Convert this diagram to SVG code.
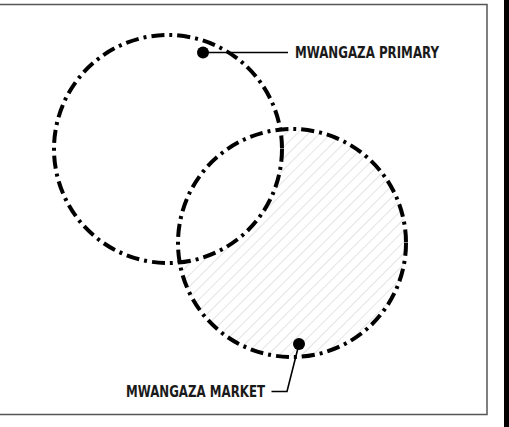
<svg xmlns="http://www.w3.org/2000/svg" width="509" height="427" viewBox="0 0 509 427">
<style>
.ring{fill:none;stroke:#000;stroke-width:4;stroke-dasharray:13 5 3 5}
.lead{fill:none;stroke:#000;stroke-width:1.6}
.dot{fill:#000}
.lbl{font-family:"DejaVu Sans Condensed","DejaVu Sans",sans-serif;font-size:15px;font-weight:bold;fill:#1a1a1a}
</style>
<defs>
<pattern id="hatch" width="8" height="8" patternUnits="userSpaceOnUse" patternTransform="rotate(45)">
<line x1="0" y1="0" x2="0" y2="8" stroke="#c8c8c8" stroke-width="1"/>
</pattern>
<mask id="notC1">
<rect x="0" y="0" width="509" height="427" fill="#fff"/>
<circle cx="168" cy="149" r="114" fill="#000"/>
</mask>
</defs>
<rect x="0" y="0" width="509" height="427" fill="#fff"/>
<rect x="-10" y="4.5" width="497" height="410" fill="none" stroke="#555" stroke-width="1.5"/>
<rect x="504" y="0" width="5" height="427" fill="#000"/>
<circle cx="292" cy="243" r="114" fill="url(#hatch)" mask="url(#notC1)"/>
<g id="primary">
<circle class="ring" cx="168" cy="149" r="114"/>
</g>
<g id="market">
<circle class="ring" cx="292" cy="243" r="114"/>
</g>
<g id="connectors">
<polyline class="lead" points="203,52.5 288,52.5"/>
<polyline class="lead" points="299,344 287,391.5 271.5,391.5"/>
</g>
<g id="primary-label">
<circle class="dot" cx="203" cy="52.5" r="6"/>
<text class="lbl" x="295" y="58.3" textLength="144" lengthAdjust="spacingAndGlyphs">MWANGAZA PRIMARY</text>
</g>
<g id="market-label">
<circle class="dot" cx="299" cy="344" r="6"/>
<text class="lbl" x="126" y="397.3" textLength="139" lengthAdjust="spacingAndGlyphs">MWANGAZA MARKET</text>
</g>
</svg>
